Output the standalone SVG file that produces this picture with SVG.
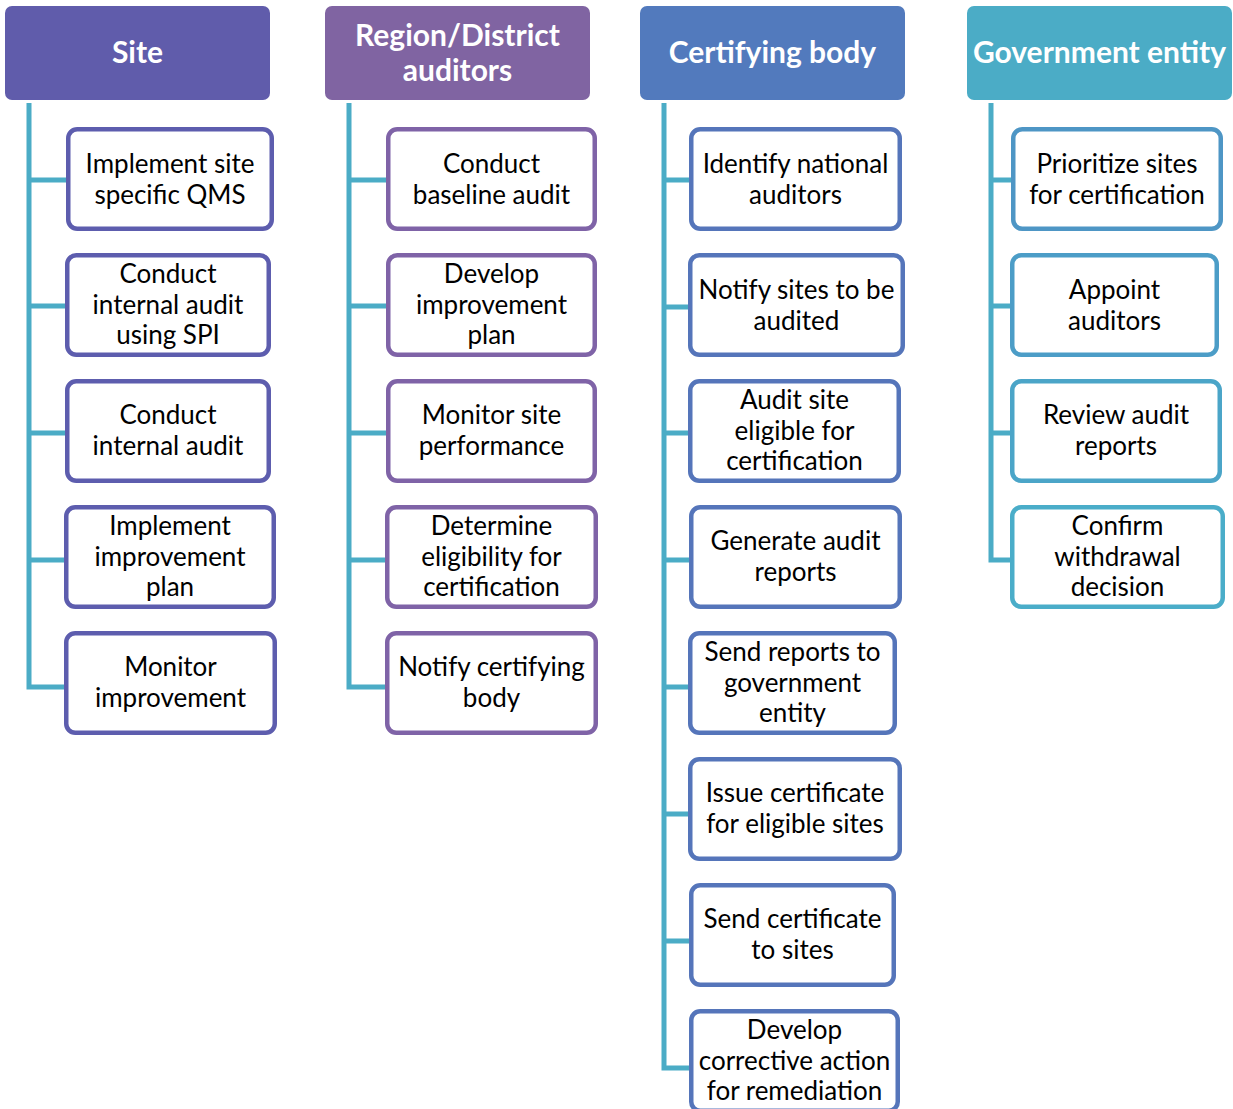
<svg xmlns="http://www.w3.org/2000/svg" width="1233" height="1109" viewBox="0 0 1233 1109">
  <style>
    .hdr-text { font-family: Lato, "Liberation Sans", sans-serif; font-weight: bold; font-size: 30px; fill: #ffffff; text-anchor: middle; }
    .box { fill: #ffffff; stroke-width: 4.5; }
    .box-text { font-family: Lato, "Liberation Sans", sans-serif; font-size: 26px; fill: #000000; text-anchor: middle; }
    .site { stroke: #5D5DAE; }
    .region { stroke: #7F63A7; }
    .cert { stroke: #5575BA; }
    .gov { stroke: #4C9FC7; }
    .conn { fill: none; stroke: #4BACC6; stroke-width: 5; stroke-linejoin: miter; }
  </style>

  <!-- column headers -->
  <g id="hdr-site">
    <rect x="5" y="6" width="265" height="94" rx="7" fill="#605CAB"/>
    <text class="hdr-text" x="137.5" y="63">Site</text>
  </g>
  <g id="hdr-region">
    <rect x="325" y="6" width="265" height="94" rx="7" fill="#8064A2"/>
    <text class="hdr-text" x="457.5" y="46">Region/District</text>
    <text class="hdr-text" x="457.5" y="81">auditors</text>
  </g>
  <g id="hdr-cert">
    <rect x="640" y="6" width="265" height="94" rx="7" fill="#527ABD"/>
    <text class="hdr-text" x="772.5" y="63">Certifying body</text>
  </g>
  <g id="hdr-gov">
    <rect x="967" y="6" width="265" height="94" rx="7" fill="#4BACC6"/>
    <text class="hdr-text" x="1099.5" y="63">Government entity</text>
  </g>

  <!-- connectors: one spine per column with a branch to each task -->
  <g id="connectors" class="conn">
    <path d="M29,103 V687 H66 M29,180 H66 M29,306 H66 M29,433 H66 M29,560 H66"/>
    <path d="M349,103 V687 H386 M349,180 H386 M349,306 H386 M349,433 H386 M349,560 H386"/>
    <path d="M664,103 V1068 H689 M664,180 H689 M664,307 H689 M664,433 H689 M664,560 H689 M664,687 H689 M664,814 H689 M664,941 H689"/>
    <path d="M991,103 V560 H1011 M991,180 H1011 M991,306 H1011 M991,433 H1011"/>
  </g>

  <!-- Site tasks -->
  <g id="site-1">
    <rect class="box site" x="68.25" y="129.25" width="203.5" height="99.5" rx="9"/>
    <text class="box-text" x="170" y="173">Implement site</text>
    <text class="box-text" x="170" y="203.5">specific QMS</text>
  </g>
  <g id="site-2">
    <rect class="box site" x="67.25" y="255.25" width="201.5" height="99.5" rx="9"/>
    <text class="box-text" x="168" y="283">Conduct</text>
    <text class="box-text" x="168" y="313.5">internal audit</text>
    <text class="box-text" x="168" y="344">using SPI</text>
  </g>
  <g id="site-3">
    <rect class="box site" x="67.25" y="381.25" width="201.5" height="99.5" rx="9"/>
    <text class="box-text" x="168" y="424">Conduct</text>
    <text class="box-text" x="168" y="454.5">internal audit</text>
  </g>
  <g id="site-4">
    <rect class="box site" x="66.25" y="507.25" width="207.5" height="99.5" rx="9"/>
    <text class="box-text" x="170" y="535">Implement</text>
    <text class="box-text" x="170" y="565.5">improvement</text>
    <text class="box-text" x="170" y="596">plan</text>
  </g>
  <g id="site-5">
    <rect class="box site" x="66.25" y="633.25" width="208.5" height="99.5" rx="9"/>
    <text class="box-text" x="170.5" y="676">Monitor</text>
    <text class="box-text" x="170.5" y="706.5">improvement</text>
  </g>

  <!-- Region/District auditor tasks -->
  <g id="region-1">
    <rect class="box region" x="388.25" y="129.25" width="206.5" height="99.5" rx="9"/>
    <text class="box-text" x="491.5" y="173">Conduct</text>
    <text class="box-text" x="491.5" y="203.5">baseline audit</text>
  </g>
  <g id="region-2">
    <rect class="box region" x="388.25" y="255.25" width="206.5" height="99.5" rx="9"/>
    <text class="box-text" x="491.5" y="283">Develop</text>
    <text class="box-text" x="491.5" y="313.5">improvement</text>
    <text class="box-text" x="491.5" y="344">plan</text>
  </g>
  <g id="region-3">
    <rect class="box region" x="388.25" y="381.25" width="206.5" height="99.5" rx="9"/>
    <text class="box-text" x="491.5" y="424">Monitor site</text>
    <text class="box-text" x="491.5" y="454.5">performance</text>
  </g>
  <g id="region-4">
    <rect class="box region" x="387.25" y="507.25" width="208.5" height="99.5" rx="9"/>
    <text class="box-text" x="491.5" y="535">Determine</text>
    <text class="box-text" x="491.5" y="565.5">eligibility for</text>
    <text class="box-text" x="491.5" y="596">certification</text>
  </g>
  <g id="region-5">
    <rect class="box region" x="387.25" y="633.25" width="208.5" height="99.5" rx="9"/>
    <text class="box-text" x="491.5" y="676">Notify certifying</text>
    <text class="box-text" x="491.5" y="706.5">body</text>
  </g>

  <!-- Certifying body tasks -->
  <g id="cert-1">
    <rect class="box cert" x="691.25" y="129.25" width="208.5" height="99.5" rx="9"/>
    <text class="box-text" x="795.5" y="173">Identify national</text>
    <text class="box-text" x="795.5" y="203.5">auditors</text>
  </g>
  <g id="cert-2">
    <rect class="box cert" x="690.25" y="255.25" width="212.5" height="99.5" rx="9"/>
    <text class="box-text" x="796.5" y="299">Notify sites to be</text>
    <text class="box-text" x="796.5" y="329.5">audited</text>
  </g>
  <g id="cert-3">
    <rect class="box cert" x="690.25" y="381.25" width="208.5" height="99.5" rx="9"/>
    <text class="box-text" x="794.5" y="409">Audit site</text>
    <text class="box-text" x="794.5" y="439.5">eligible for</text>
    <text class="box-text" x="794.5" y="470">certification</text>
  </g>
  <g id="cert-4">
    <rect class="box cert" x="691.25" y="507.25" width="208.5" height="99.5" rx="9"/>
    <text class="box-text" x="795.5" y="550">Generate audit</text>
    <text class="box-text" x="795.5" y="580.5">reports</text>
  </g>
  <g id="cert-5">
    <rect class="box cert" x="690.25" y="633.25" width="204.5" height="99.5" rx="9"/>
    <text class="box-text" x="792.5" y="661">Send reports to</text>
    <text class="box-text" x="792.5" y="691.5">government</text>
    <text class="box-text" x="792.5" y="722">entity</text>
  </g>
  <g id="cert-6">
    <rect class="box cert" x="690.25" y="759.25" width="209.5" height="99.5" rx="9"/>
    <text class="box-text" x="795" y="802">Issue certificate</text>
    <text class="box-text" x="795" y="832.5">for eligible sites</text>
  </g>
  <g id="cert-7">
    <rect class="box cert" x="691.25" y="885.25" width="202.5" height="99.5" rx="9"/>
    <text class="box-text" x="792.5" y="928">Send certificate</text>
    <text class="box-text" x="792.5" y="958.5">to sites</text>
  </g>
  <g id="cert-8">
    <rect class="box cert" x="691.25" y="1011.25" width="206.5" height="99.5" rx="9"/>
    <text class="box-text" x="794.5" y="1039">Develop</text>
    <text class="box-text" x="794.5" y="1069.5">corrective action</text>
    <text class="box-text" x="794.5" y="1100">for remediation</text>
  </g>

  <!-- Government entity tasks -->
  <g id="gov-1">
    <rect class="box gov" x="1013.25" y="129.25" width="207.5" height="99.5" rx="9" style="stroke:#4E96C5"/>
    <text class="box-text" x="1117" y="173">Prioritize sites</text>
    <text class="box-text" x="1117" y="203.5">for certification</text>
  </g>
  <g id="gov-2">
    <rect class="box gov" x="1012.25" y="255.25" width="204.5" height="99.5" rx="9" style="stroke:#4C9DC7"/>
    <text class="box-text" x="1114.5" y="299">Appoint</text>
    <text class="box-text" x="1114.5" y="329.5">auditors</text>
  </g>
  <g id="gov-3">
    <rect class="box gov" x="1012.25" y="381.25" width="207.5" height="99.5" rx="9" style="stroke:#4BA5C8"/>
    <text class="box-text" x="1116" y="424">Review audit</text>
    <text class="box-text" x="1116" y="454.5">reports</text>
  </g>
  <g id="gov-4">
    <rect class="box gov" x="1012.25" y="507.25" width="210.5" height="99.5" rx="9" style="stroke:#4AADC9"/>
    <text class="box-text" x="1117.5" y="535">Confirm</text>
    <text class="box-text" x="1117.5" y="565.5">withdrawal</text>
    <text class="box-text" x="1117.5" y="596">decision</text>
  </g>
</svg>
